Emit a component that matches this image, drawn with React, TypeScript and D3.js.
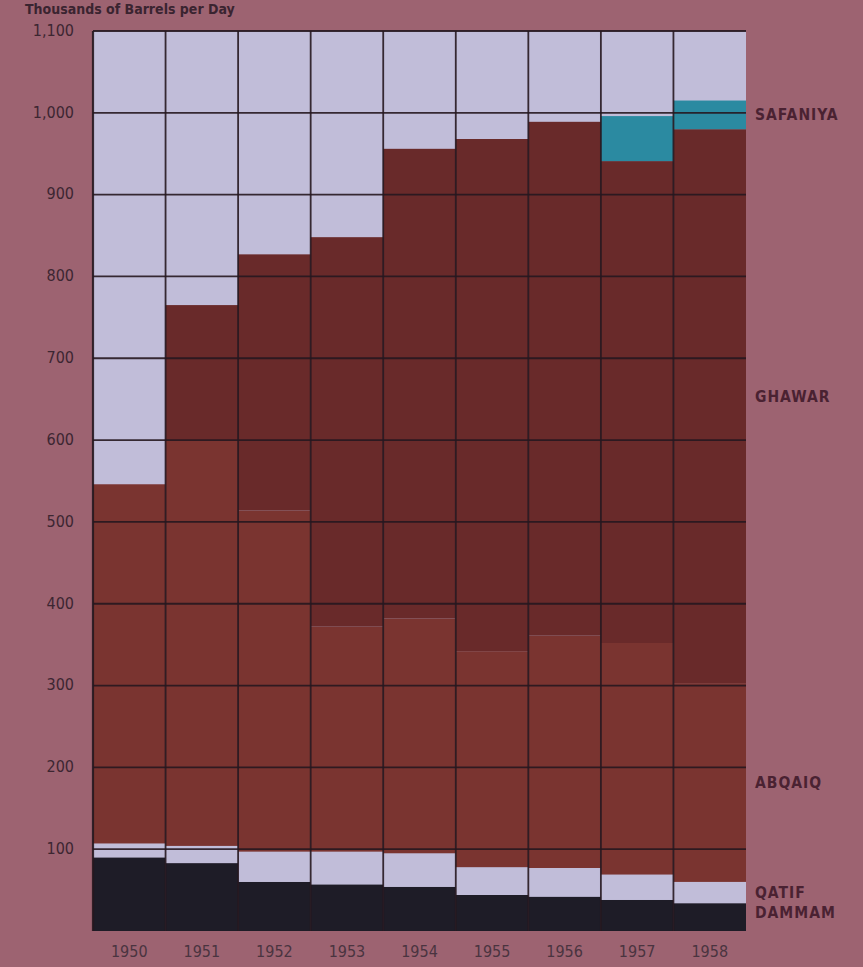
import React from 'react';
import * as d3 from 'd3';

// Saudi Arabian crude production by field, thousands of barrels per day
const years = ['1950', '1951', '1952', '1953', '1954', '1955', '1956', '1957', '1958'];
const dammam = [90, 83, 60, 57, 54, 44, 42, 38, 34];
const qatif = [17, 21, 37, 40, 41, 34, 35, 31, 26];
const abqaiq = [439, 495, 417, 275, 287, 264, 284, 283, 243];
const ghawar = [0, 166, 313, 476, 574, 626, 628, 589, 677];
const safaniya = [0, 0, 0, 0, 0, 0, 0, 55, 35];

const fields = ['DAMMAM', 'QATIF', 'ABQAIQ', 'GHAWAR', 'SAFANIYA'];
const yTicks = [100, 200, 300, 400, 500, 600, 700, 800, 900, 1000, 1100];

const colors: Record<string, string> = {
  DAMMAM: '#1e1c27',
  QATIF: '#c1bdd9',
  ABQAIQ: '#7a3430',
  GHAWAR: '#692a2a',
  SAFANIYA: '#2b8aa1',
};

const width = 863;
const height = 967;
const plot = { left: 93, right: 746, top: 31, bottom: 931 };

export default function App() {
  const rows = years.map((yr, i) => ({
    year: yr,
    DAMMAM: dammam[i],
    QATIF: qatif[i],
    ABQAIQ: abqaiq[i],
    GHAWAR: ghawar[i],
    SAFANIYA: safaniya[i],
  }));

  const stack = d3.stack<any>().keys(fields);
  const series = stack(rows);

  const x = d3.scaleBand<string>().domain(years).range([plot.left, plot.right]).padding(0);
  const y = d3.scaleLinear().domain([0, 1100]).range([plot.bottom, plot.top]);

  const fmt = d3.format(',');
  const last = years.length - 1;
  const labelFont = '"DejaVu Sans Condensed", "DejaVu Sans", sans-serif';

  return (
    <div style={{ position: 'absolute', left: 0, top: 0, width, height, overflow: 'hidden' }}>
      <svg width={width} height={height} style={{ display: 'block' }}>
        <rect x={0} y={0} width={width} height={height} fill="#9d6371" />

        <text x={25} y={14} fontFamily={labelFont} fontWeight="bold" fontSize={14} fill="#3a2430">
          Thousands of Barrels per Day
        </text>

        {/* plot background (unused capacity) */}
        <rect
          x={plot.left}
          y={plot.top}
          width={plot.right - plot.left}
          height={plot.bottom - plot.top}
          fill={colors.QATIF}
        />

        {series.map((s) => (
          <g key={s.key} fill={colors[s.key]}>
            {s.map((d, i) => (
              <rect
                key={i}
                x={x(years[i])}
                y={y(d[1])}
                width={x.bandwidth()}
                height={Math.max(0, y(d[0]) - y(d[1]))}
              />
            ))}
          </g>
        ))}

        {/* grid */}
        <g stroke="#26171f" strokeOpacity={0.9}>
          {yTicks.map((t) => (
            <line key={t} x1={plot.left} x2={plot.right} y1={y(t)} y2={y(t)} strokeWidth={t === 1100 ? 2.2 : 1.8} />
          ))}
          {years.map((yr) => (
            <line key={yr} x1={x(yr)} x2={x(yr)} y1={plot.top} y2={plot.bottom} strokeWidth={yr === years[0] ? 2.2 : 1.8} />
          ))}
        </g>

        {/* y labels */}
        <g fontFamily={labelFont} fontSize={16} fill="#3c2631" textAnchor="end">
          {yTicks.map((t) => (
            <text key={t} x={74} y={y(t)} dy="0.3em">
              {fmt(t)}
            </text>
          ))}
        </g>

        {/* x labels */}
        <g fontFamily={labelFont} fontSize={16} fill="#4a3440" textAnchor="middle">
          {years.map((yr) => (
            <text key={yr} x={(x(yr) as number) + x.bandwidth() / 2} y={957}>
              {yr}
            </text>
          ))}
        </g>

        {/* field labels at the last column */}
        <g fontFamily={labelFont} fontSize={15.5} fontWeight="bold" fill="#4a2232" letterSpacing={1}>
          {series.map((s) => {
            const d = s[last];
            let mid = (d[0] + d[1]) / 2;
            if (s.key === 'GHAWAR') mid += 12;
            if (s.key === 'DAMMAM') mid += 5;
            return (
              <text key={s.key} x={755} y={y(mid)} dy="0.35em">
                {s.key}
              </text>
            );
          })}
        </g>
      </svg>
    </div>
  );
}
